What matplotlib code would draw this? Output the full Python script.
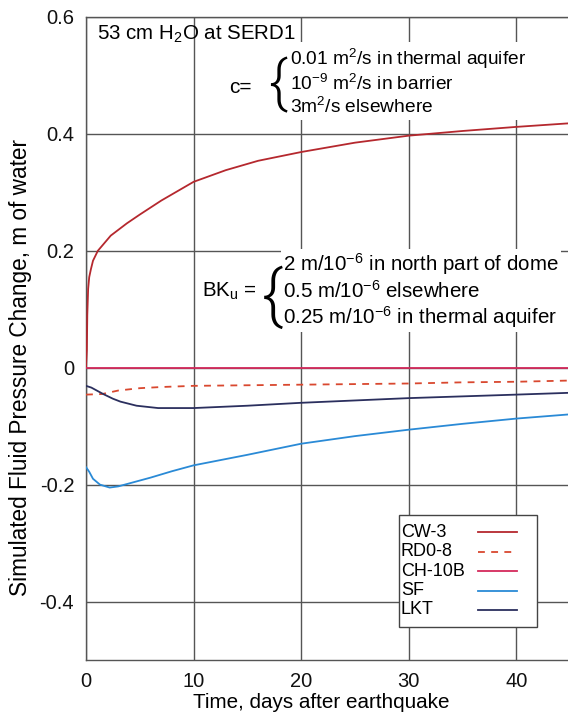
import numpy as np
import matplotlib
matplotlib.use("Agg")
import matplotlib.pyplot as plt
from matplotlib.patches import Rectangle
from matplotlib.lines import Line2D

plt.rcParams['font.family'] = ['Liberation Sans', 'DejaVu Sans']
plt.rcParams['mathtext.fontset'] = 'custom'
plt.rcParams['mathtext.rm'] = 'Liberation Sans'
plt.rcParams['mathtext.it'] = 'Liberation Sans'
plt.rcParams['axes.unicode_minus'] = False

# ---- data (days, m of water) ----
t_cw3 = [0, 0.08, 0.12, 0.2, 0.3, 0.45, 0.65, 1.1, 2.3, 3.8, 5, 7, 10, 13, 16, 20, 25, 30, 35, 40, 44.8]
cw3 = [0, 0.03, 0.09, 0.135, 0.155, 0.168, 0.183, 0.2, 0.226, 0.247, 0.262, 0.286, 0.318, 0.338,
       0.354, 0.369, 0.385, 0.397, 0.405, 0.412, 0.418]

t_rd08 = [0, 1.5, 3, 5, 7, 10, 15, 20, 25, 30, 35, 40, 44.8]
rd08 = [-0.046, -0.045, -0.039, -0.035, -0.033, -0.031, -0.030, -0.029, -0.028, -0.027, -0.025, -0.024, -0.022]

t_ch10b = [0, 10, 20, 30, 40, 44.8]
ch10b = [0, 0, 0, 0, 0, 0]

t_sf = [0, 0.3, 0.65, 1.3, 2.2, 3, 4, 6, 8, 10, 15, 20, 25, 30, 35, 40, 44.8]
sf = [-0.17, -0.178, -0.19, -0.2, -0.205, -0.203, -0.198, -0.188, -0.177, -0.167, -0.149,
      -0.130, -0.117, -0.106, -0.096, -0.087, -0.080]

t_lkt = [0, 0.5, 1.6, 2.5, 3.2, 4.7, 6.7, 10, 15, 20, 25, 30, 35, 40, 44.8]
lkt = [-0.031, -0.034, -0.045, -0.053, -0.058, -0.065, -0.069, -0.069, -0.065, -0.060,
       -0.056, -0.052, -0.049, -0.046, -0.043]

labels = ['CW-3', 'RD0-8', 'CH-10B', 'SF', 'LKT']
colors = ['#b5282e', '#d9482f', '#d42a5c', '#2a8ad6', '#2b2f5e']
styles = ['-', (0, (3.8, 3.5)), '-', '-', '-']
series = [(t_cw3, cw3), (t_rd08, rd08), (t_ch10b, ch10b), (t_sf, sf), (t_lkt, lkt)]

yticks = [-0.4, -0.2, 0, 0.2, 0.4, 0.6]
ytick_labels = ['-0.4', '-0.2', '0', '0.2', '0.4', '0.6']
xticks = [0, 10, 20, 30, 40]

# ---- figure ----
fig = plt.figure(figsize=(5.68, 7.17), dpi=100)
ax = fig.add_axes([0.1514, 0.0795, 0.8486, 0.8968])

for (tt, vv), lab, col, ls in zip(series, labels, colors, styles):
    ax.plot(tt, vv, color=col, linestyle=ls, linewidth=1.3, label=lab, zorder=3)

ax.set_xlim(0, 44.8)
ax.set_ylim(-0.5, 0.6)
ax.set_xticks(xticks)
ax.set_yticks(yticks)
ax.set_yticklabels(ytick_labels)
ax.tick_params(length=0, labelsize=14.5, pad=8.5, colors='#111111')
ax.grid(True, color='#555555', linewidth=1.0)
ax.set_axisbelow(True)
for s in ['left', 'bottom', 'top']:
    ax.spines[s].set_color('#555555')
    ax.spines[s].set_linewidth(1.0)
ax.spines['right'].set_visible(False)

ax.set_xlabel('Time, days after earthquake', fontsize=14.9)
ax.xaxis.set_label_coords(0.489, -0.051)
ax.set_ylabel('Simulated Fluid Pressure Change, m of water', fontsize=16.3)
ax.yaxis.set_label_coords(-0.112, 0.455)

# ---- annotations ----
brace_font = ['Roboto', 'DejaVu Sans']
ax.text(1.0, 0.571, '53 cm H$_2$O at SERD1', fontsize=14.8, va='center', ha='left')

ax.text(13.3, 0.479, 'c=', fontsize=15, va='center', ha='left')
ax.text(17.8, 0.484, '{', fontsize=41, va='center', ha='center', family=brace_font,
        fontweight=300, zorder=5)
ax.text(19.0, 0.489, '0.01 m$^2$/s in thermal aquifer\n10$^{-9}$ m$^2$/s in barrier\n3m$^2$/s elsewhere',
        fontsize=13.8, va='center', ha='left', linespacing=1.18,
        bbox=dict(facecolor='white', edgecolor='none', pad=2), zorder=4)

ax.text(10.8, 0.130, 'BK$_\\mathrm{u}$ =', fontsize=14.8, va='center', ha='left')
ax.text(17.3, 0.120, '{', fontsize=46, va='center', ha='center', family=brace_font,
        fontweight=300, zorder=5)
ax.text(18.3, 0.132, '2 m/10$^{-6}$ in north part of dome\n0.5 m/10$^{-6}$ elsewhere\n0.25 m/10$^{-6}$ in thermal aquifer',
        fontsize=14.8, va='center', ha='left', linespacing=1.13,
        bbox=dict(facecolor='white', edgecolor='none', pad=1.5), zorder=4)

# ---- legend: labels on the left, samples on the right ----
ax.add_patch(Rectangle((0.649, 0.0513), 0.287, 0.1742, transform=ax.transAxes,
                       facecolor='white', edgecolor='#444444', linewidth=1.0, zorder=5))
row_y = [0.199, 0.168, 0.138, 0.108, 0.078]
for lab, col, ls, yy in zip(labels, colors, styles, row_y):
    ax.text(0.653, yy, lab, transform=ax.transAxes, fontsize=13, va='center', ha='left', zorder=6)
    ax.add_line(Line2D([0.813, 0.894], [yy, yy], transform=ax.transAxes, color=col,
                       linestyle=ls, linewidth=1.3, zorder=6))

fig.savefig('out.png', dpi=100)
